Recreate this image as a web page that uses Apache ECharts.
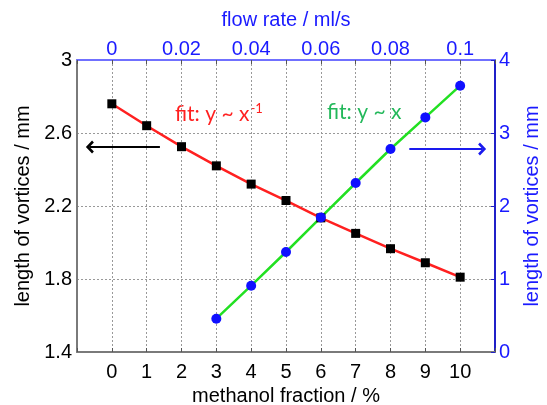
<!DOCTYPE html>
<html>
<head>
<meta charset="utf-8">
<script src="https://cdn.jsdelivr.net/npm/echarts@6/dist/echarts.min.js"></script>
<style>
  html, body { margin: 0; padding: 0; background: #fff; }
  #chart { width: 547px; height: 405px; }
</style>
</head>
<body>
<div id="chart"></div>
<script>
// methanol fraction (%) vs vortex length (mm), left axis
const fraction = [0, 1, 2, 3, 4, 5, 6, 7, 8, 9, 10]
const lengthLeft = [2.76, 2.64, 2.525, 2.42, 2.32, 2.23, 2.135, 2.05, 1.966, 1.889, 1.81]

// flow rate (ml/s) vs vortex length (mm), right axis
const flowRate = [0.03, 0.04, 0.05, 0.06, 0.07, 0.08, 0.09, 0.1]
const lengthRight = [0.456, 0.908, 1.37, 1.844, 2.315, 2.781, 3.214, 3.648]

// arrows pointing to the axis each series belongs to
const leftArrow = { from: [1.38, 2.523], to: [-0.63, 2.523] }      // fraction, left mm
const rightArrow = { from: [0.0854, 2.78], to: [0.1063, 2.78] }    // flow rate, right mm

const FONT = '"Liberation Sans", Arial, sans-serif'
const BLUE = '#1a1aff'
const chevron = 'path://M0,10 L10,0 L20,10 L17,13 L10,6 L3,13 Z'

const chart = echarts.init(document.getElementById('chart'))

chart.setOption({
  animation: false,
  backgroundColor: '#fff',
  textStyle: { fontFamily: FONT },
  grid: { left: 77, right: 52, top: 60, bottom: 53, containLabel: false, outerBoundsMode: 'none' },
  xAxis: [
    {
      type: 'value', position: 'bottom', min: -1, max: 11, interval: 1,
      name: 'methanol fraction / %', nameLocation: 'middle', nameGap: 23,
      nameTextStyle: { fontSize: 20, color: '#000', fontFamily: FONT },
      axisLine: { onZero: false, lineStyle: { color: '#7a7a7a', width: 2 } },
      axisTick: { inside: true, length: 4, lineStyle: { color: '#555' } },
      axisLabel: {
        fontSize: 20, color: '#000', margin: 10, fontFamily: FONT,
        formatter: v => (v >= 0 && v <= 10) ? String(v) : ''
      },
      splitLine: { show: true, lineStyle: { type: [2, 2], color: '#999', width: 1 } }
    },
    {
      type: 'value', position: 'top', min: -0.01, max: 0.11, interval: 0.01,
      name: 'flow rate / ml/s', nameLocation: 'middle', nameGap: 30,
      nameTextStyle: { fontSize: 20, color: BLUE, fontFamily: FONT },
      axisLine: { onZero: false, lineStyle: { color: '#7070ff', width: 2 } },
      axisTick: { inside: true, length: 4, lineStyle: { color: '#555' } },
      axisLabel: {
        fontSize: 20, color: BLUE, margin: 1, fontFamily: FONT,
        formatter: v => {
          const k = Math.round(v * 100)
          return (k >= 0 && k <= 10 && k % 2 === 0) ? String(k / 100) : ''
        }
      },
      splitLine: { show: false }
    }
  ],
  yAxis: [
    {
      type: 'value', position: 'left', min: 1.4, max: 3, interval: 0.2,
      name: 'length of vortices / mm', nameLocation: 'middle', nameGap: 39, nameRotate: 90,
      nameTextStyle: { fontSize: 20, color: '#000', fontFamily: FONT },
      axisLine: { onZero: false, lineStyle: { color: '#7a7a7a', width: 2 } },
      axisTick: { show: false },
      axisLabel: {
        fontSize: 20, color: '#000', margin: 5, fontFamily: FONT,
        formatter: v => (Math.round(v * 10) % 4 === 2) ? String(+v.toFixed(1)) : ''
      },
      splitLine: { show: false }
    },
    {
      type: 'value', position: 'right', min: 0, max: 4, interval: 1,
      name: 'length of vortices / mm', nameLocation: 'middle', nameGap: 27, nameRotate: 90,
      nameTextStyle: { fontSize: 20, color: BLUE, fontFamily: FONT },
      axisLine: { onZero: false, lineStyle: { color: '#2020c8', width: 2 } },
      axisTick: { inside: true, length: 4, lineStyle: { color: '#2020c8' } },
      axisLabel: { fontSize: 20, color: BLUE, margin: 4, fontFamily: FONT },
      splitLine: { show: true, lineStyle: { type: [2, 2], color: '#999', width: 1 } }
    }
  ],
  graphic: [
    {
      type: 'text', left: 175, top: 102, silent: true,
      style: {
        text: '{a|fit: y ~ x}{s|-1}',
        rich: {
          a: { fontFamily: 'Lato', fontSize: 21, fill: '#ff2020', lineHeight: 24 },
          s: { fontFamily: 'Lato', fontSize: 13, fill: '#ff2020', lineHeight: 24, verticalAlign: 'top', padding: [0, 0, 10, 1] }
        }
      }
    },
    {
      type: 'text', left: 327, top: 102, silent: true,
      style: { text: 'fit: y ~ x', fontFamily: 'Lato', fontSize: 21, fill: '#22b85a' }
    }
  ],
  series: [
    {
      name: 'left',
      type: 'line', xAxisIndex: 0, yAxisIndex: 0,
      data: fraction.map((x, i) => [x, lengthLeft[i]]),
      symbol: 'rect', symbolSize: 9,
      itemStyle: { color: '#000' },
      lineStyle: { color: '#ff2020', width: 2.5 },
      markLine: {
        silent: true,
        symbol: ['none', chevron], symbolSize: [13, 8],
        label: { show: false },
        lineStyle: { color: '#000', width: 2, type: 'solid' },
        data: [[{ coord: leftArrow.from }, { coord: leftArrow.to }]]
      }
    },
    {
      name: 'right',
      type: 'line', xAxisIndex: 1, yAxisIndex: 1,
      data: flowRate.map((x, i) => [x, lengthRight[i]]),
      symbol: 'circle', symbolSize: 10,
      itemStyle: { color: '#1010ff' },
      lineStyle: { color: '#22e022', width: 2.5 },
      markLine: {
        silent: true,
        symbol: ['none', chevron], symbolSize: [13, 8],
        label: { show: false },
        lineStyle: { color: '#1a1aee', width: 2, type: 'solid' },
        data: [[{ coord: rightArrow.from }, { coord: rightArrow.to }]]
      }
    }
  ]
})
</script>
</body>
</html>
